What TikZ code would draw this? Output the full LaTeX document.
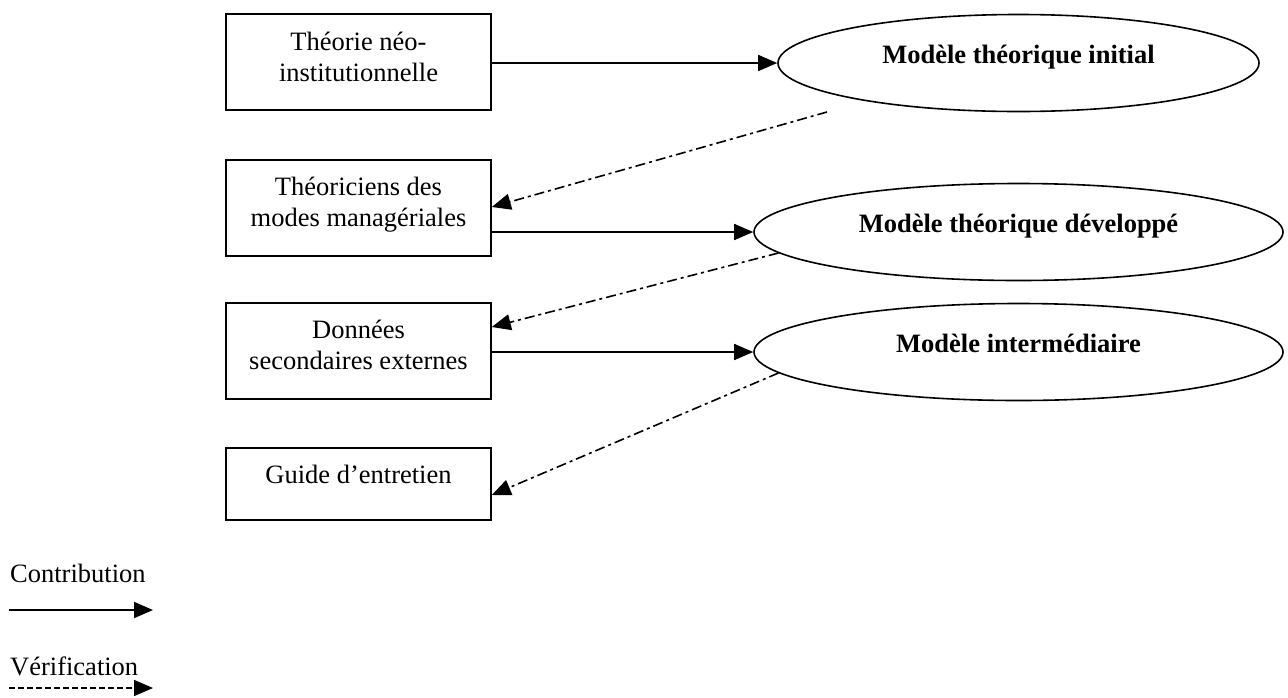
\documentclass[tikz,border=0pt]{standalone}
\usepackage{fontspec}
\setmainfont{Liberation Serif}
\usetikzlibrary{arrows.meta,shapes.geometric}

% extra depth below the last line, lifts the text inside its shape
\newcommand{\liftby}[1]{\rule[-#1]{0pt}{#1}}

\begin{document}
\begin{tikzpicture}[x=1pt,y=-1pt,
  txt/.style={font=\fontsize{26.5}{30.5}\selectfont},
  srcbox/.style={txt, draw, line width=1.6pt, minimum width=265pt,
    minimum height=96pt, inner sep=0pt, align=center},
  model/.style={txt, draw, ellipse, line width=1.6pt, inner sep=0pt,
    minimum height=97pt, font=\fontsize{26.5}{30.5}\selectfont\bfseries},
  tip/.style={-{Triangle[length=19pt,width=16pt]}},
  contrib/.style={tip, line width=1.6pt},
  verif/.style={tip, line width=1.6pt, dash pattern=on 10pt off 4pt on 3pt off 4pt},
  legdash/.style={tip, line width=1.5pt, dash pattern=on 6pt off 3pt},
  legtext/.style={txt, inner sep=0pt, anchor=base west}]

  \clip (0,0) rectangle (1288,697);

  % sources
  \node[srcbox] (b1) at (358.5,62)  {Théorie néo-\\institutionnelle\liftby{10pt}};
  \node[srcbox] (b2) at (358.5,208) {Théoriciens des\\modes managériales\liftby{12pt}};
  \node[srcbox] (b3) at (358.5,351) {Données\\secondaires externes\liftby{12pt}};
  \node[srcbox, minimum height=72pt] (b4) at (358.5,484) {Guide d’entretien\liftby{20pt}};

  % models
  \node[model, minimum width=481pt] (e1) at (1018.5,63)  {Modèle théorique initial\liftby{18pt}};
  \node[model, minimum width=529pt] (e2) at (1018.5,232) {Modèle théorique développé\liftby{18pt}};
  \node[model, minimum width=529pt] (e3) at (1018.5,352) {Modèle intermédiaire\liftby{18pt}};

  % contribution
  \draw[contrib] (b1.east |- e1.west) -- (e1.west);
  \draw[contrib] (b2.east |- e2.west) -- (e2.west);
  \draw[contrib] (b3.east |- e3.west) -- (e3.west);

  % verification
  \coordinate (v1) at (827,112);
  \draw[verif] (v1) -- ([yshift=1pt]b2.east);
  \draw[verif] (e2.185.5) -- ([yshift=24pt]b3.east);
  \draw[verif] (e3.185.5) -- ([yshift=-11pt]b4.east);

  % legend
  \node[legtext] (lc) at (10,582) {Contribution};
  \coordinate (lca) at (9,610);
  \coordinate (lcb) at (153,610);
  \draw[contrib] (lca) -- (lcb);

  \node[legtext] (lv) at (10,675) {Vérification};
  \coordinate (lva) at (9,688);
  \coordinate (lvb) at (153,688);
  \draw[legdash] (lva) -- (lvb);
\end{tikzpicture}
\end{document}
